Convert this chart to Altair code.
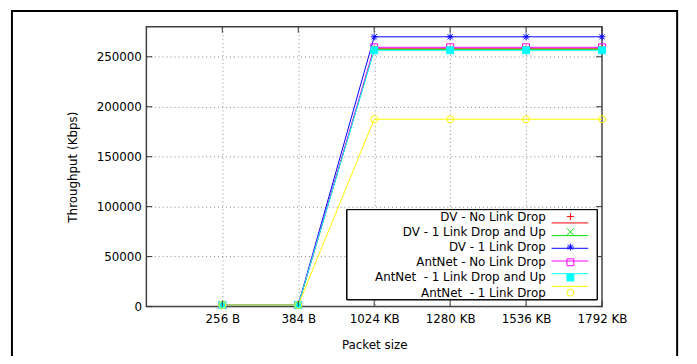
import altair as alt
import pandas as pd

# ---- data ----
sizes = ["256 B", "384 B", "1024 KB", "1280 KB", "1536 KB", "1792 KB"]
series_names = [
    "DV - No Link Drop",
    "DV - 1 Link Drop and Up",
    "DV - 1 Link Drop",
    "AntNet - No Link Drop",
    "AntNet  - 1 Link Drop and Up",
    "AntNet  - 1 Link Drop",
]
dv_no_drop = [1500, 1500, 258000, 258000, 258000, 258000]
dv_drop_up = [1500, 1500, 257500, 257500, 257500, 257500]
dv_drop = [1500, 1500, 270000, 270000, 270000, 270000]
ant_no_drop = [1500, 1500, 259500, 259500, 259500, 259500]
ant_drop_up = [1500, 1500, 256500, 256500, 256500, 256500]
ant_drop = [1500, 1500, 187500, 187500, 187500, 187500]
all_values = [dv_no_drop, dv_drop_up, dv_drop, ant_no_drop, ant_drop_up, ant_drop]

y_ticks = [0, 50000, 100000, 150000, 200000, 250000]
x_ticks = [1, 2, 3, 4, 5, 6]

colors = ["#ff0000", "#00e000", "#0000ff", "#ff00ff", "#00ffff", "#ffff00"]
shapes = [
    "M-1,0L1,0M0,-1L0,1",
    "M-1,-1L1,1M-1,1L1,-1",
    "M-1,0L1,0M0,-1L0,1M-0.75,-0.75L0.75,0.75M-0.75,0.75L0.75,-0.75",
    "square",
    "square",
    "circle",
]
fills = ["transparent", "transparent", "transparent", "transparent", "#00ffff", "transparent"]

W, H = 461, 283
X_DOM = [0, 6]
Y_DOM = [0, 280000]

rows = []
for name, vals in zip(series_names, all_values):
    for i, v in enumerate(vals):
        rows.append({"series": name, "xi": i + 1, "value": v, "order": series_names.index(name)})
df = pd.DataFrame(rows)
leg_df = pd.DataFrame({
    "series": series_names,
    "label": [s.replace("  ", " \u00a0") for s in series_names],
})
ytick_df = pd.DataFrame({"v": y_ticks})
xtick_df = pd.DataFrame({"v": x_ticks})

label_expr = "[''," + ",".join("'%s'" % s for s in sizes) + "][datum.value]"

color_scale = alt.Scale(domain=series_names, range=colors)
shape_scale = alt.Scale(domain=series_names, range=shapes)
fill_scale = alt.Scale(domain=series_names, range=fills)

x_axis = alt.Axis(
    values=x_ticks, labelExpr=label_expr, title="Packet size", grid=True,
    gridDash=[1, 3], gridColor="#888888", gridWidth=1, ticks=False, domain=False,
    labelFontSize=12, labelColor="#000000", labelPadding=7, titleFontSize=12,
    titleFontWeight="normal", titleColor="#000000", titlePadding=15, labelFlush=False,
)
y_axis = alt.Axis(
    values=y_ticks, format="d", title="Throughput (Kbps)", grid=True,
    gridDash=[1, 3], gridColor="#888888", gridWidth=1, ticks=False, domain=False,
    labelFontSize=12, labelColor="#000000", labelPadding=5, titleFontSize=12,
    titleFontWeight="normal", titleColor="#000000", titlePadding=17,
)

X = lambda field, axis=None: alt.X(field, scale=alt.Scale(domain=X_DOM, nice=False), axis=axis)
Y = lambda field, axis=None: alt.Y(field, scale=alt.Scale(domain=Y_DOM, nice=False), axis=axis)

base = alt.Chart(df)
lines = base.mark_line(strokeWidth=1).encode(
    x=X("xi:Q", x_axis),
    y=Y("value:Q", y_axis),
    color=alt.Color("series:N", scale=color_scale, legend=None),
    detail="series:N",
    order="order:Q",
)
points = base.mark_point(filled=False, size=49, strokeWidth=1, opacity=1).encode(
    x=X("xi:Q"),
    y=Y("value:Q"),
    color=alt.Color("series:N", scale=color_scale, legend=None),
    shape=alt.Shape("series:N", scale=shape_scale, legend=None),
    fill=alt.Fill("series:N", scale=fill_scale, legend=None),
)

tick_color = "#333333"
ytick_left = alt.Chart(ytick_df).mark_rule(color=tick_color, strokeWidth=1).encode(
    y=Y("v:Q"), x=alt.value(0), x2=alt.value(6))
ytick_right = alt.Chart(ytick_df).mark_rule(color=tick_color, strokeWidth=1).encode(
    y=Y("v:Q"), x=alt.value(W - 6), x2=alt.value(W))
xtick_bottom = alt.Chart(xtick_df).mark_rule(color=tick_color, strokeWidth=1).encode(
    x=X("v:Q"), y=alt.value(H), y2=alt.value(H - 6))
xtick_top = alt.Chart(xtick_df).mark_rule(color=tick_color, strokeWidth=1).encode(
    x=X("v:Q"), y=alt.value(0), y2=alt.value(6))

# ---- gnuplot-style key (text left, sample right) ----
leg_y = alt.Y("series:N", sort=series_names,
              scale=alt.Scale(domain=series_names, range=[192, 269], padding=0), axis=None)
leg_box = alt.Chart(leg_df).mark_rect(fill="#ffffff", stroke="#000000", strokeWidth=1).encode(
    x=alt.value(203), x2=alt.value(456), y=alt.value(185), y2=alt.value(276))
leg = alt.Chart(leg_df)
leg_lines = leg.mark_rule(strokeWidth=1).encode(
    y=leg_y, x=alt.value(410), x2=alt.value(447),
    color=alt.Color("series:N", scale=color_scale, legend=None))
leg_points = leg.mark_point(filled=False, size=49, strokeWidth=1, opacity=1).encode(
    y=leg_y, x=alt.value(429),
    color=alt.Color("series:N", scale=color_scale, legend=None),
    shape=alt.Shape("series:N", scale=shape_scale, legend=None),
    fill=alt.Fill("series:N", scale=fill_scale, legend=None))
leg_text = leg.mark_text(align="right", baseline="middle", fontSize=12, color="#000000",
                         font="DejaVu Sans").encode(
    y=leg_y, x=alt.value(404), text="label:N")

frame = alt.Chart(leg_df.head(1)).mark_rect(fill="transparent", stroke="#000000", strokeWidth=2).encode(
    x=alt.value(-136), x2=alt.value(537), y=alt.value(-16), y2=alt.value(337))

chart = alt.layer(
    lines, points, ytick_left, ytick_right, xtick_bottom, xtick_top,
    leg_box, leg_lines, leg_points, leg_text, frame,
).resolve_scale(
    x="independent", y="independent", color="shared", shape="shared", fill="shared"
).properties(
    width=W, height=H,
    autosize=alt.AutoSizeParams(type="none"),
    padding={"left": 140, "top": 17, "right": 88, "bottom": 48},
).configure(
    font="DejaVu Sans",
).configure_view(
    stroke="#404040", strokeWidth=1.5,
)

chart.save("out.html", embed_options={"renderer": "svg", "actions": False})
